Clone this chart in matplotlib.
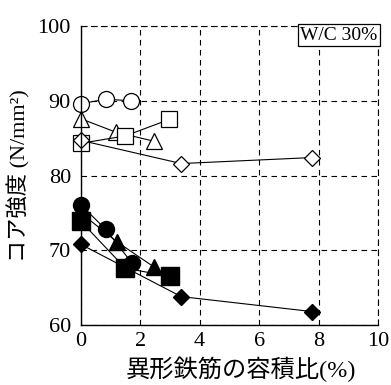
import matplotlib
matplotlib.use("Agg")
import matplotlib.pyplot as plt

# Open symbols
oc_x = [0.0, 0.84, 1.70]; oc_y = [89.6, 90.2, 90.0]
ot_x = [0.0, 1.18, 2.45]; ot_y = [87.6, 85.8, 84.6]
os_x = [0.0, 1.50, 2.98]; os_y = [84.3, 85.3, 87.5]
od_x = [0.0, 3.38, 7.78]; od_y = [84.7, 81.6, 82.4]
# Filled symbols
fc_x = [0.0, 0.84, 1.72]; fc_y = [76.1, 72.8, 68.3]
ft_x = [0.0, 1.23, 2.45]; ft_y = [75.0, 71.1, 67.8]
fs_x = [0.0, 1.50, 3.00]; fs_y = [73.9, 67.6, 66.5]
fd_x = [0.0, 3.38, 7.78]; fd_y = [70.8, 63.8, 61.8]

xticks = [0, 2, 4, 6, 8, 10]
yticks = [60, 70, 80, 90, 100]

serif = ["Liberation Serif", "DejaVu Serif"]
mixed = ["Liberation Serif", "Noto Sans CJK JP"]

fig = plt.figure(figsize=(3.91, 3.85), dpi=100)
ax = fig.add_axes([0.2064, 0.1558, 0.7604, 0.7767])

lw = 0.8
kw = dict(color='black', lw=lw, zorder=3, clip_on=False)
okw = dict(mfc='white', mec='black', mew=0.9)
ax.plot(oc_x, oc_y, '-o', ms=11.5, **okw, **kw)
ax.plot(ot_x, ot_y, '-^', ms=11.5, **okw, **kw)
ax.plot(os_x, os_y, '-s', ms=12, **okw, **kw)
ax.plot(od_x, od_y, '-D', ms=8.5, **okw, **kw)

ax.plot(ft_x, ft_y, '-^', ms=11.5, **kw)
ax.plot(fc_x, fc_y, '-o', ms=11.5, **kw)
ax.plot(fs_x, fs_y, '-s', ms=12.5, **kw)
ax.plot(fd_x, fd_y, '-D', ms=8.5, **kw)

ax.set_xlim(0, 10)
ax.set_ylim(60, 100)
ax.set_xticks(xticks)
ax.set_yticks(yticks)
ax.set_xticklabels([str(v) for v in xticks], fontfamily=serif, fontsize=16)
ax.set_yticklabels([str(v) for v in yticks], fontfamily=serif, fontsize=16)
ax.tick_params(axis='y', direction='in', length=0, pad=7)
ax.tick_params(axis='x', direction='in', length=0, pad=5)

ax.grid(True, color='black', linestyle=(0, (5, 4)), linewidth=0.8)
for s in ['top', 'right']:
    ax.spines[s].set_linestyle((0, (5, 4)))
    ax.spines[s].set_linewidth(0.8)
for s in ['left', 'bottom']:
    ax.spines[s].set_linewidth(1.0)
for s in ax.spines.values():
    s.set_zorder(4)

ax.set_xlabel("異形鉄筋の容積比(%)", fontfamily=mixed, fontsize=17.5, labelpad=0)
ax.xaxis.set_label_coords(0.54, -0.105, transform=ax.transAxes)
ax.xaxis.label.set_va('top')
ax.set_ylabel("コア強度 (N/mm²)", fontfamily=mixed, fontsize=16, labelpad=5)

ax.text(0.998, 0.998, "W/C 30%", transform=ax.transAxes, ha='right', va='top',
        fontfamily=serif, fontsize=14, zorder=5,
        bbox=dict(boxstyle='square,pad=0.12', fc='white', ec='black', lw=0.9))

fig.savefig("out.png", dpi=100)
